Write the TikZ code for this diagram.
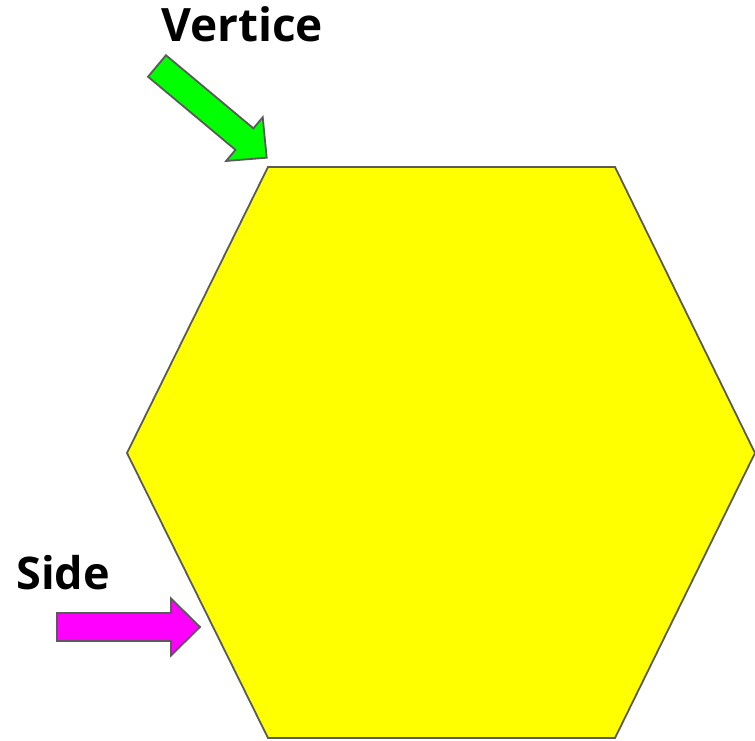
\documentclass[tikz,border=0pt]{standalone}
\usepackage{fontspec}
\setmainfont{Open Sans}
\usepackage{tikz}
\usetikzlibrary{calc}
\definecolor{hexfill}{HTML}{FFFF00}
\definecolor{vertfill}{HTML}{00FF00}
\definecolor{sidefill}{HTML}{FF00FF}
\definecolor{edge}{HTML}{5A5A5A}
\tikzset{
  outline/.style={draw=edge,line width=1.8pt,line join=miter},
  lbl/.style={text=black,anchor=base,inner sep=0pt},
}
% block arrow: tail at origin, pointing along +x
\newcommand\blockarrow{%
  (0,14) -- (114,14) -- (114,28.5) -- (143,0) -- (114,-28.5) -- (114,-14) -- (0,-14) -- cycle}

\begin{document}
\begin{tikzpicture}[x=1pt,y=1pt]
\useasboundingbox (0,0) rectangle (755,741);
% hexagon corners
\coordinate (tl) at (268,574); \coordinate (tr) at (615,574);
\coordinate (r) at (755,288);  \coordinate (br) at (615,3);
\coordinate (bl) at (268,3);   \coordinate (l) at (127,288);
\draw[outline,fill=hexfill] (tl) -- (tr) -- (r) -- (br) -- (bl) -- (l) -- cycle;
% arrows
\coordinate (vtail) at (157,675);
\coordinate (stail) at (57,114);
\draw[outline,fill=vertfill,shift={(vtail)},rotate=-39.9] \blockarrow;
\draw[outline,fill=sidefill,shift={(stail)}] \blockarrow;
% labels
\node[lbl,font=\fontsize{46}{50}\selectfont\bfseries] (vertlabel) at (242,699) {Vertice};
\node[lbl,font=\fontsize{45}{49}\selectfont\bfseries] (sidelabel) at (63,151) {Side};
\end{tikzpicture}
\end{document}
